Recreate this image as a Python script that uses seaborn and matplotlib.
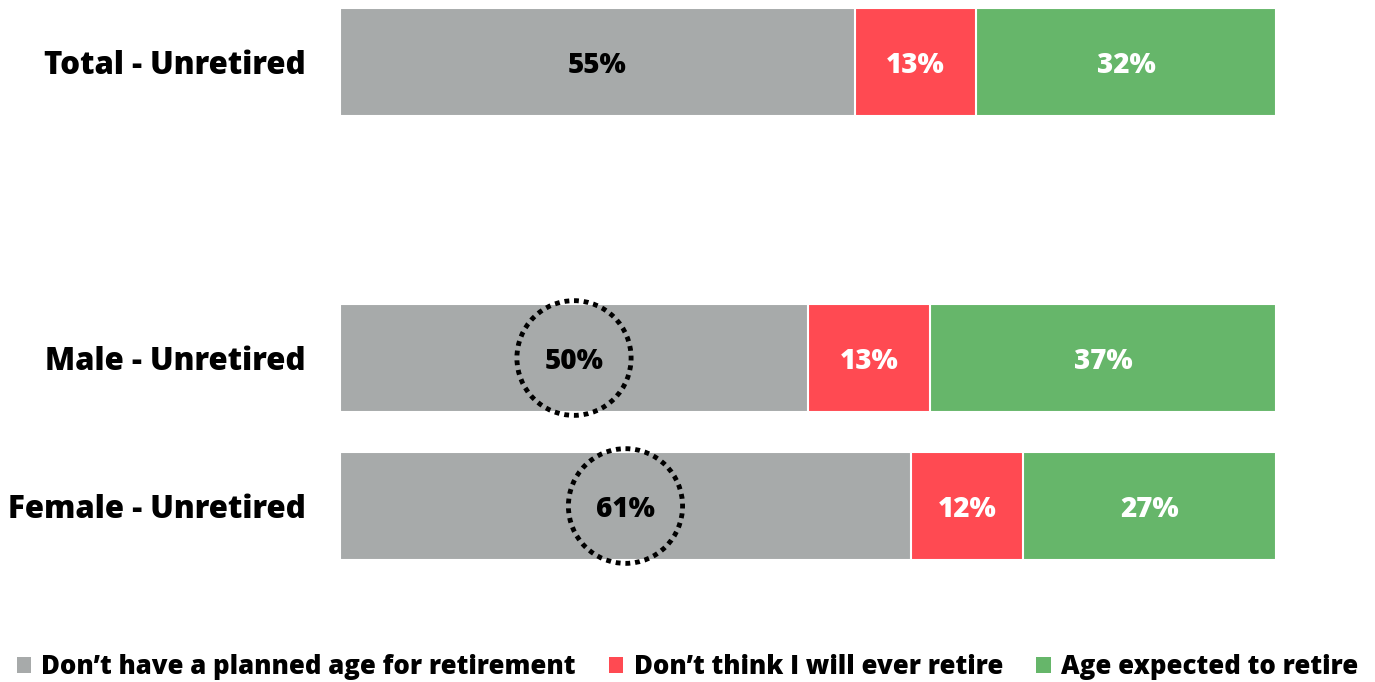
import matplotlib
matplotlib.use("Agg")
import matplotlib.pyplot as plt
from matplotlib.patches import Patch, Ellipse
import seaborn as sns
import pandas as pd
import numpy as np

# Survey groups and answer shares (%)
groups = ["Total - Unretired", "Male - Unretired", "Female - Unretired"]
no_planned_age = [55, 50, 61]
never_retire = [13, 13, 12]
expected_age = [32, 37, 27]
series_names = ["Don\u2019t have a planned age for retirement",
                "Don\u2019t think I will ever retire",
                "Age expected to retire"]
circled_groups = ["Male - Unretired", "Female - Unretired"]

colors = ["#A7AAAA", "#FF4A52", "#66B66A"]
label_colors = ["black", "white", "white"]

# blank slot separates the total from the gender split
order = [groups[0], " ", groups[1], groups[2]]

sns.set_theme(style="white")
plt.rcParams["font.family"] = ["Open Sans", "DejaVu Sans"]
plt.rcParams["text.color"] = "black"
W = "heavy"

fig = plt.figure(figsize=(13.75, 6.82), dpi=100)
ax = fig.add_axes([340 / 1375, 82 / 682, 936 / 1375, 600 / 682])

df = pd.DataFrame({"group": groups,
                   "s1": no_planned_age,
                   "s2": never_retire,
                   "s3": expected_age})
df["c1"] = df["s1"]
df["c2"] = df["s1"] + df["s2"]
df["c3"] = df["s1"] + df["s2"] + df["s3"]

# stacked bars drawn from the longest cumulative total down
for col, color in zip(["c3", "c2", "c1"], colors[::-1]):
    sns.barplot(data=df, y="group", x=col, order=order, color=color,
                orient="h", width=0.73, edgecolor="white", linewidth=1.5,
                saturation=1, ax=ax)

pos = {g: order.index(g) for g in groups}
for _, row in df.iterrows():
    y = pos[row["group"]]
    left = 0
    for k, (s, tc) in enumerate(zip(["s1", "s2", "s3"], label_colors)):
        v = row[s]
        ax.text(left + v / 2, y, f"{v}%", ha="center", va="center_baseline",
                color=tc, fontsize=20, fontweight=W)
        if k == 0 and row["group"] in circled_groups:
            ax.add_patch(Ellipse((left + v / 2, y), width=12.2, height=0.775,
                                 fill=False, edgecolor="black", linewidth=3.5,
                                 linestyle=(0, (1, 1)), zorder=5))
        left += v

ax.set_xlim(0, 100)
ax.set_ylim(3.635, -0.419)
ax.set_xlabel("")
ax.set_ylabel("")
ax.set_xticks([])
ax.tick_params(axis="y", length=0, pad=25)
for lbl in ax.get_yticklabels():
    lbl.set_fontsize(22.5)
    lbl.set_fontweight(W)
    lbl.set_color("black")
sns.despine(ax=ax, left=True, bottom=True)

handles = [Patch(facecolor=c, edgecolor="none", label=n)
           for c, n in zip(colors, series_names)]
leg = fig.legend(handles=handles, loc="center", bbox_to_anchor=(0.5, 15 / 682),
                 ncol=3, frameon=False, prop={"size": 18.5, "weight": W},
                 handlelength=0.55, handleheight=0.55, handletextpad=0.4,
                 columnspacing=1.3, borderaxespad=0)
for t in leg.get_texts():
    t.set_color("black")

fig.savefig("out.png", dpi=100)
